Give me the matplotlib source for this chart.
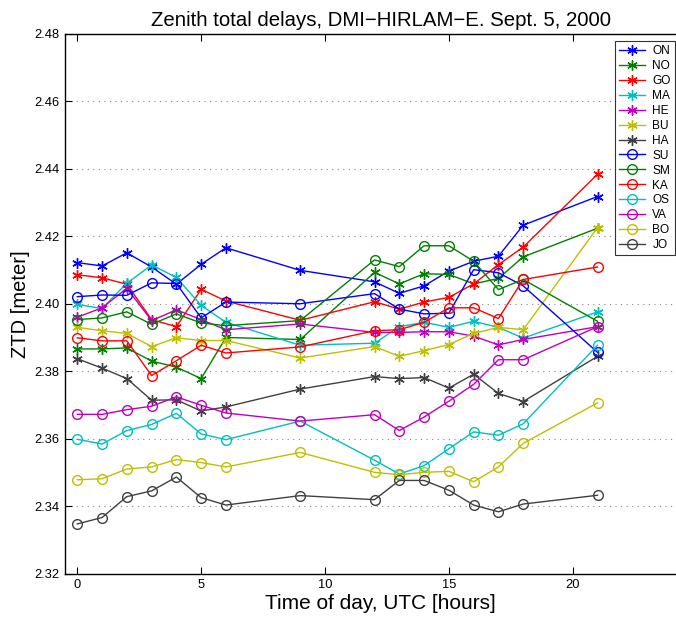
import matplotlib
matplotlib.use("Agg")
import matplotlib.pyplot as plt

hours = [0, 1, 2, 3, 4, 5, 6, 9, 12, 13, 14, 15, 16, 17, 18, 21]

stations = ["ON", "NO", "GO", "MA", "HE", "BU", "HA",
            "SU", "SM", "KA", "OS", "VA", "BO", "JO"]

ON = [2.4122, 2.4112, 2.4151, 2.4109, 2.4058, 2.4117, 2.4166, 2.4099,
      2.4065, 2.4031, 2.4053, 2.4097, 2.4126, 2.4141, 2.4233, 2.4318]
NO = [2.3866, 2.3866, 2.3869, 2.3830, 2.3812, 2.3778, 2.3900, 2.3894,
      2.4093, 2.4059, 2.4089, 2.4087, 2.4059, 2.4075, 2.4139, 2.4224]
GO = [2.4086, 2.4077, 2.4058, 2.3953, 2.3932, 2.4043, 2.4008, 2.3951,
      2.4006, 2.3984, 2.4005, 2.4019, 2.4059, 2.4116, 2.4168, 2.4384]
MA = [2.3998, 2.3986, 2.4061, 2.4115, 2.4078, 2.3995, 2.3945, 2.3877,
      2.3883, 2.3932, 2.3945, 2.3930, 2.3948, 2.3930, 2.3898, 2.3976]
HE = [2.3960, 2.3988, 2.4046, 2.3950, 2.3982, 2.3953, 2.3923, 2.3940,
      2.3915, 2.3915, 2.3917, 2.3917, 2.3904, 2.3878, 2.3894, 2.3932]
BU = [2.3930, 2.3920, 2.3912, 2.3873, 2.3899, 2.3891, 2.3891, 2.3839,
      2.3873, 2.3844, 2.3861, 2.3879, 2.3912, 2.3930, 2.3923, 2.4226]
HA = [2.3837, 2.3809, 2.3778, 2.3714, 2.3715, 2.3682, 2.3694, 2.3747,
      2.3784, 2.3778, 2.3781, 2.3750, 2.3791, 2.3734, 2.3710, 2.3844]
SU = [2.4021, 2.4026, 2.4025, 2.4062, 2.4060, 2.3958, 2.4005, 2.4000,
      2.4030, 2.3984, 2.3970, 2.3972, 2.4101, 2.4092, 2.4053, 2.3856]
SM = [2.3953, 2.3958, 2.3976, 2.3939, 2.3970, 2.3943, 2.3935, 2.3950,
      2.4130, 2.4110, 2.4172, 2.4172, 2.4126, 2.4042, 2.4072, 2.3948]
KA = [2.3899, 2.3890, 2.3890, 2.3787, 2.3831, 2.3877, 2.3854, 2.3872,
      2.3920, 2.3923, 2.3945, 2.3988, 2.3988, 2.3956, 2.4072, 2.4109]
OS = [2.3598, 2.3584, 2.3624, 2.3642, 2.3675, 2.3614, 2.3597, 2.3652,
      2.3536, 2.3495, 2.3520, 2.3570, 2.3620, 2.3610, 2.3644, 2.3877]
VA = [2.3672, 2.3672, 2.3686, 2.3696, 2.3724, 2.3699, 2.3676, 2.3652,
      2.3671, 2.3624, 2.3664, 2.3711, 2.3761, 2.3834, 2.3834, 2.3932]
BO = [2.3478, 2.3481, 2.3510, 2.3516, 2.3538, 2.3529, 2.3516, 2.3559,
      2.3500, 2.3493, 2.3500, 2.3503, 2.3472, 2.3516, 2.3586, 2.3706]
JO = [2.3347, 2.3366, 2.3428, 2.3445, 2.3486, 2.3425, 2.3403, 2.3431,
      2.3419, 2.3476, 2.3476, 2.3447, 2.3403, 2.3383, 2.3406, 2.3432]

series = [ON, NO, GO, MA, HE, BU, HA, SU, SM, KA, OS, VA, BO, JO]

x_ticks = [0, 5, 10, 15, 20]
y_ticks = [2.32, 2.34, 2.36, 2.38, 2.40, 2.42, 2.44, 2.46, 2.48]

colors = [(0, 0, 1), (0, 0.5, 0), (1, 0, 0), (0, 0.75, 0.75),
          (0.75, 0, 0.75), (0.75, 0.75, 0), (0.25, 0.25, 0.25)]

plt.rcParams['font.family'] = ['Liberation Sans', 'DejaVu Sans']

fig = plt.figure(figsize=(6.76, 6.17), dpi=100)
W, H = 676, 617
left_px, right_px, top_px, bot_px = 64.9, 696.6, 34.0, 573.5
ax = fig.add_axes([left_px / W, 1 - bot_px / H,
                   (right_px - left_px) / W, (bot_px - top_px) / H])

for i, (name, vals) in enumerate(zip(stations, series)):
    c = colors[i % 7]
    if i < 7:
        ax.plot(hours, vals, color=c, lw=1.0, marker=(6, 2, 0),
                markersize=7.5, markeredgewidth=1.0, label=name)
    else:
        ax.plot(hours, vals, color=c, lw=1.0, marker='o',
                markersize=7, markerfacecolor='none',
                markeredgewidth=1.0, label=name)

ax.set_xlim(-0.5, 25)
ax.set_ylim(2.32, 2.48)
ax.set_xticks(x_ticks)
ax.set_yticks(y_ticks)
ax.set_yticklabels([f"{v:.2f}" for v in y_ticks])
ax.tick_params(direction='in', top=True, right=False, labelsize=9.3,
               length=5, width=0.8, pad=4)
ax.yaxis.grid(True, linestyle=(0, (1, 4)), color='#888888', lw=0.8)
for s in ax.spines.values():
    s.set_linewidth(1.0)

ax.set_title("Zenith total delays, DMI\u2212HIRLAM\u2212E. Sept. 5, 2000",
             fontsize=14.7, pad=6)
ax.set_xlabel("Time of day, UTC [hours]", fontsize=15, labelpad=2)
ax.set_ylabel("ZTD [meter]", fontsize=14.5, labelpad=3)

leg = ax.legend(loc='upper right', bbox_to_anchor=(675 / W, 1 - 41 / H),
                bbox_transform=fig.transFigure, borderaxespad=0,
                fontsize=8.6, frameon=True, fancybox=False,
                edgecolor='black', handlelength=2.2, labelspacing=0.245,
                handletextpad=0.6, borderpad=0.35)
leg.get_frame().set_linewidth(0.8)

fig.savefig("out.png", dpi=100)
